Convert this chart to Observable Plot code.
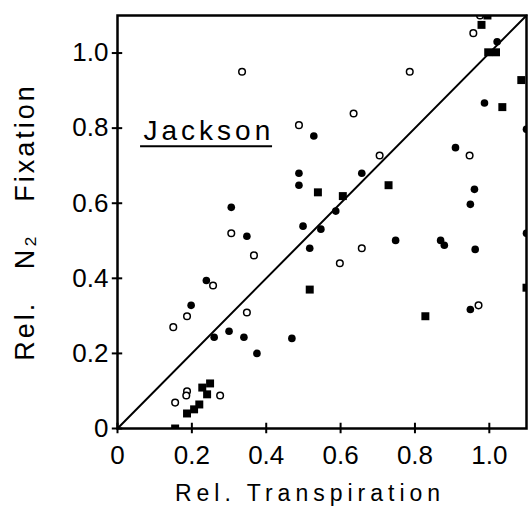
<!DOCTYPE html>
<html><head><meta charset="utf-8">
<script src="https://cdn.jsdelivr.net/npm/d3@7"></script>
<script src="https://cdn.jsdelivr.net/npm/@observablehq/plot@0.6"></script>
<style>
body{margin:0;background:#fff}
svg{display:block}
.lbl text{letter-spacing:4px}
.lblx text{letter-spacing:5px}
.lbly text{letter-spacing:3px;white-space:pre}
</style>
</head><body><div id="chart"></div>
<script>
// Open circles
const openX = [0.335,0.488,0.957,0.786,0.635,0.947,0.705,0.306,0.367,0.257,0.187,0.150,0.348,0.657,0.598,0.971,0.187,0.185,0.276,0.155,0.975];
const openY = [0.950,0.808,1.053,0.950,0.839,0.727,0.727,0.520,0.461,0.381,0.299,0.270,0.309,0.480,0.440,0.328,0.099,0.088,0.088,0.069,1.100];
// Filled dots
const dotX = [0.528,0.488,0.488,0.306,0.499,0.547,0.587,0.657,1.021,0.987,0.909,0.960,0.949,0.348,0.517,0.239,0.198,0.260,0.300,0.340,0.469,0.375,0.748,0.869,0.879,0.962,0.949,1.100,1.100];
const dotY = [0.779,0.680,0.648,0.589,0.539,0.531,0.579,0.680,1.030,0.867,0.748,0.637,0.597,0.512,0.480,0.394,0.328,0.243,0.259,0.243,0.240,0.200,0.501,0.501,0.488,0.477,0.317,0.797,0.520];
// Filled squares
const sqX = [0.979,0.997,1.018,1.086,1.035,0.539,0.606,0.729,0.517,0.828,1.100,0.249,0.228,0.241,0.220,0.206,0.187,0.155,0.995];
const sqY = [1.075,1.002,1.002,0.928,0.856,0.629,0.619,0.648,0.370,0.299,0.375,0.120,0.109,0.091,0.064,0.051,0.040,0.000,1.100];
// 1:1 line
const diagX = [0, 1.1];
const diagY = [0, 1.1];
// Ticks and labels
const tickValues = [0, 0.2, 0.4, 0.6, 0.8, 1.0];
const tickLabels = ["0", "0.2", "0.4", "0.6", "0.8", "1.0"];
const xTitle = "Rel. Transpiration";
const yTitle = "Rel.   N\u2082   Fixation";
const noteText = ["Jackson"];
const noteX = [0.07];
const noteY = [0.768];
const noteLineX = [0.062, 0.417];
const noteLineY = [0.752];

const open = openX.map((x, i) => ({x, y: openY[i]}));
const dots = dotX.map((x, i) => ({x, y: dotY[i]}));
const squares = sqX.map((x, i) => ({x, y: sqY[i]}));
const diag = diagX.map((x, i) => ({x, y: diagY[i]}));
const fmt = d => tickLabels[tickValues.indexOf(d)];

const chart = Plot.plot({
  width: 529, height: 514,
  marginLeft: 117, marginRight: 3, marginTop: 15, marginBottom: 86,
  style: {fontFamily: "'Liberation Sans', Arial, sans-serif", background: "white", color: "black"},
  x: {domain: [0, 1.1]},
  y: {domain: [0, 1.1]},
  marks: [
    Plot.line(diag, {x: "x", y: "y", stroke: "black", strokeWidth: 2}),
    Plot.dot(open, {x: "x", y: "y", r: 3.3, stroke: "black", strokeWidth: 1.5, fill: "white", clip: true}),
    Plot.dot(dots, {x: "x", y: "y", r: 3.8, fill: "black", stroke: "none", clip: true}),
    Plot.dot(squares, {x: "x", y: "y", symbol: "square", r: 4.5, fill: "black", stroke: "none", clip: true}),
    Plot.frame({stroke: "black", strokeWidth: 2.5}),
    Plot.ruleX(tickValues, {x: d => d, y1: -0.014, y2: 0.014, stroke: "black", strokeWidth: 2}),
    Plot.ruleY(tickValues, {y: d => d, x1: -0.014, x2: 0.014, stroke: "black", strokeWidth: 2}),
    Plot.axisX(tickValues, {tickSize: 0, tickPadding: 17, tickFormat: fmt, fontSize: 26, label: null}),
    Plot.axisY(tickValues, {tickSize: 0, tickPadding: 9, tickFormat: fmt, fontSize: 26, label: null}),
    Plot.text([xTitle], {text: d => d, frameAnchor: "bottom", dy: 65, dx: -12, fontSize: 23, lineAnchor: "middle", className: "lblx"}),
    Plot.text([yTitle], {text: d => d, frameAnchor: "left", textAnchor: "middle", rotate: -90, dx: -92, dy: 0, fontSize: 27, lineAnchor: "middle", className: "lbly"}),
    Plot.text(noteText, {x: (d, i) => noteX[i], y: (d, i) => noteY[i], text: d => d, textAnchor: "start", lineAnchor: "bottom", fontSize: 28, className: "lbl"}),
    Plot.ruleY(noteLineY, {y: d => d, x1: noteLineX[0], x2: noteLineX[1], stroke: "black", strokeWidth: 2})
  ]
});
document.getElementById("chart").appendChild(chart);
</script>
</body></html>
